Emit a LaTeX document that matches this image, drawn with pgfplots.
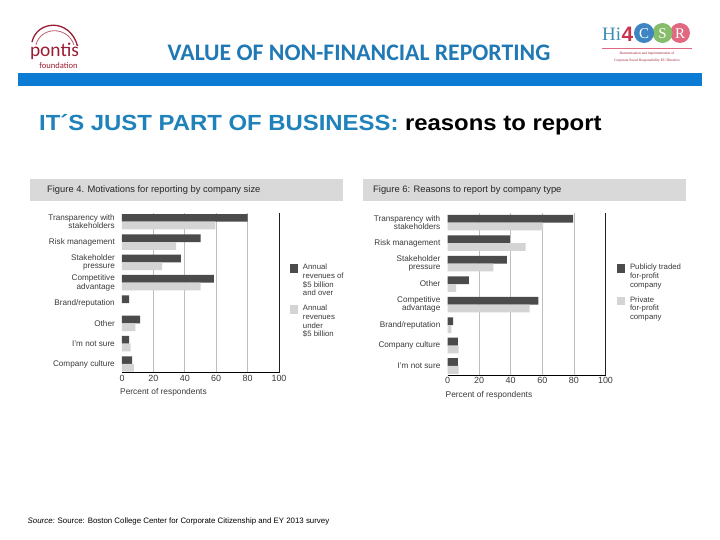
\documentclass[border=0pt]{standalone}
\usepackage{pgfplots}
\pgfplotsset{compat=1.18}
\usepackage{pgfplotstable}
\usepackage{fontspec}
\setmainfont{Liberation Sans}
\newfontfamily\calibrifont{Carlito}
\newfontfamily\seriffont{Liberation Serif}

\definecolor{barDark}{HTML}{4B4B4B}
\definecolor{barLight}{HTML}{D4D4D4}
\definecolor{gridGray}{HTML}{BDBDBD}
\definecolor{headGray}{HTML}{D9D9D9}
\definecolor{labelGray}{HTML}{3A3A3A}
\definecolor{titleBlue}{HTML}{2079B4}
\definecolor{ruleBlue}{HTML}{0B7BD3}
\definecolor{subBlue}{HTML}{1F82BA}
\definecolor{pontisRed}{HTML}{9A1D33}
\definecolor{csrTeal}{HTML}{3A8DB5}
\definecolor{csrRed}{HTML}{C8344E}
\definecolor{csrBlue}{HTML}{3D86C2}
\definecolor{csrGreen}{HTML}{86BD6A}
\definecolor{csrPink}{HTML}{E06880}

% Figure 4: share of respondents by company size (percent)
\pgfplotstableread{
idx large small
0 80   59.5
1 50   34.5
2 37.5 25.5
3 58.5 50
4 4.5  0
5 11.5 8.5
6 4.5  5.5
7 6.5  7.5
}\bysize

% Figure 6: share of respondents by company type (percent)
\pgfplotstableread{
idx public private
0 79.5 60.5
1 39.5 49.5
2 37.5 29
3 13.5 5.5
4 57.5 52
5 3.5  2.5
6 6.5  7
7 6.5  7
}\bytype

\pgfplotsset{
  reasonbars/.style={
    scale only axis,
    xbar, bar width=0.38,
    xmin=0, xmax=100,
    y dir=reverse,
    ytick={0,...,7},
    axis x line*=bottom,
    axis y line*=left,
    y axis line style={draw=none},
    x axis line style={black, line width=0.8bp},
    xtick={0,20,...,100},
    minor xtick={20,40,60,80},
    xminorgrids=true,
    minor grid style={gridGray, line width=0.7bp},
    extra x ticks={100},
    extra x tick labels={},
    extra x tick style={grid=major, major grid style={black!88, line width=0.8bp}},
    major tick length=0pt, minor tick length=0pt,
    tick style={draw=none},
    /pgf/number format/assume math mode=true,
    xticklabel style={font=\fontsize{9}{9}\selectfont, text=labelGray, inner sep=2.5bp},
    yticklabel style={align=right, font=\fontsize{8.2}{8.6}\selectfont, text=labelGray, inner sep=0pt, xshift=-7bp},
    xlabel={Percent of respondents},
    xlabel style={at={(axis description cs:0,0)}, anchor=north west, inner sep=0pt,
      yshift=-16bp, xshift=-2bp, font=\fontsize{8.4}{9}\selectfont, text=labelGray},
    legend style={draw=none, fill=none, inner sep=0pt, outer sep=0pt,
      row sep=8bp, column sep=5bp, cells={anchor=north west},
      nodes={inner sep=0pt, align=left, font=\fontsize{7.8}{8.7}\selectfont, text=labelGray}},
  },
  sqlegend/.style={legend image code/.code={\fill[##1] (0bp,0bp) rectangle (8bp,-8.5bp);}},
}

\begin{document}
\begin{tikzpicture}
\fill[white] (0bp,0bp) rectangle (720bp,-540bp);

\begin{scope}[x=1bp,y=1bp]
  % pontis foundation mark
  \draw[pontisRed, line width=1.3bp] (32,-42) .. controls (37,-20) and (70,-18) .. (77.5,-46);
  \draw[pontisRed!70, line width=0.8bp] (36,-45) .. controls (40,-27) and (67,-25) .. (74,-45);
  \node[anchor=base, inner sep=0pt, text=pontisRed, font=\calibrifont\fontsize{19.5}{20}\selectfont]
    at (54.5,-56.5) {pontis};
  \node[anchor=base, inner sep=0pt, text=pontisRed, font=\calibrifont\fontsize{8.6}{9}\selectfont]
    at (58.5,-68) {foundation};

  % Hi4CSR mark
  \node[anchor=base west, inner sep=0pt, text=csrTeal, font=\seriffont\fontsize{19}{19}\selectfont]
    at (602,-40) {Hi};
  \node[anchor=base west, inner sep=0pt, text=csrRed, font=\bfseries\fontsize{21}{21}\selectfont]
    at (621.5,-41) {4};
  \fill[csrPink] (680,-33) circle (10);
  \fill[csrGreen] (662.5,-33) circle (10);
  \fill[csrBlue] (644,-33) circle (10);
  \node[text=white, inner sep=0pt, font=\seriffont\fontsize{15}{15}\selectfont] at (644,-33.5) {C};
  \node[text=white, inner sep=0pt, font=\seriffont\fontsize{15}{15}\selectfont] at (662.5,-33.5) {S};
  \node[text=white, inner sep=0pt, font=\seriffont\fontsize{15}{15}\selectfont] at (680,-33.5) {R};
  \draw[csrPink, line width=0.5bp] (602,-48.5) -- (692,-48.5);
  \node[text=pontisRed, inner sep=0pt, align=center, font=\seriffont\fontsize{3.6}{7.5}\selectfont]
    at (647,-57) {Harmonisation and implementation of\\Corporate Social Responsibility EU Directive};

  % page title and rule
  \node[anchor=base, inner sep=0pt, text=titleBlue, font=\calibrifont\bfseries\fontsize{23.8}{24}\selectfont]
    at (359,-60) {VALUE OF NON-FINANCIAL REPORTING};
  \fill[ruleBlue] (18,-73) rectangle (702,-86);

  % slide heading
  \node[anchor=base west, inner sep=0pt] at (39,-130)
    {\scalebox{1.09}[1]{\bfseries\fontsize{22}{22}\selectfont\textcolor{subBlue}{IT´S JUST PART OF BUSINESS:} reasons to report}};

  % figure caption bars
  \fill[headGray] (30,-179) rectangle (343,-201);
  \node[anchor=west, inner sep=0pt, text=black!85, font=\fontsize{9.4}{10}\selectfont] at (47,-190.5)
    {Figure 4. Motivations for reporting by company size};
  \fill[headGray] (363,-179) rectangle (686,-201);
  \node[anchor=west, inner sep=0pt, text=black!85, font=\fontsize{9.4}{10}\selectfont] at (373,-190.5)
    {Figure 6: Reasons to report by company type};

  % source line
  \node[anchor=base west, inner sep=0pt, font=\fontsize{7.9}{8}\selectfont] at (27.5,-523)
    {\textit{Source:} Source: Boston College Center for Corporate Citizenship and EY 2013 survey};
\end{scope}

% Figure 4: motivations by company size
\begin{axis}[reasonbars,
  at={(122bp,-372.5bp)}, anchor=south west,
  width=157bp, height=159.5bp,
  ymin=-0.43, ymax=7.42,
  yticklabels={{Transparency with\\stakeholders},{Risk management},{Stakeholder\\pressure},
    {Competitive\\advantage},{Brand/reputation},{Other},{I’m not sure},{Company culture}},
  legend style={at={(axis description cs:1.07,0.68)}, anchor=north west},
]
\addplot[fill=barDark, draw=none, bar shift=-0.19, sqlegend] table[x=large, y=idx] {\bysize};
\addlegendentry{Annual\\revenues of\\\$5 billion\\and over}
\addplot[fill=barLight, draw=none, bar shift=0.19, sqlegend] table[x=small, y=idx] {\bysize};
\addlegendentry{Annual\\revenues\\under\\\$5 billion}
\end{axis}

% Figure 6: reasons by company type
\begin{axis}[reasonbars,
  at={(447.5bp,-375bp)}, anchor=south west,
  width=158bp, height=162bp,
  ymin=-0.47, ymax=7.44,
  yticklabels={{Transparency with\\stakeholders},{Risk management},{Stakeholder\\pressure},
    {Other},{Competitive\\advantage},{Brand/reputation},{Company culture},{I’m not sure}},
  legend style={at={(axis description cs:1.073,0.685)}, anchor=north west},
]
\addplot[fill=barDark, draw=none, bar shift=-0.19, sqlegend] table[x=public, y=idx] {\bytype};
\addlegendentry{Publicly traded\\for-profit\\company}
\addplot[fill=barLight, draw=none, bar shift=0.19, sqlegend] table[x=private, y=idx] {\bytype};
\addlegendentry{Private\\for-profit\\company}
\end{axis}

\pgfresetboundingbox
\useasboundingbox (0bp,0bp) rectangle (720bp,-540bp);
\end{tikzpicture}
\end{document}
